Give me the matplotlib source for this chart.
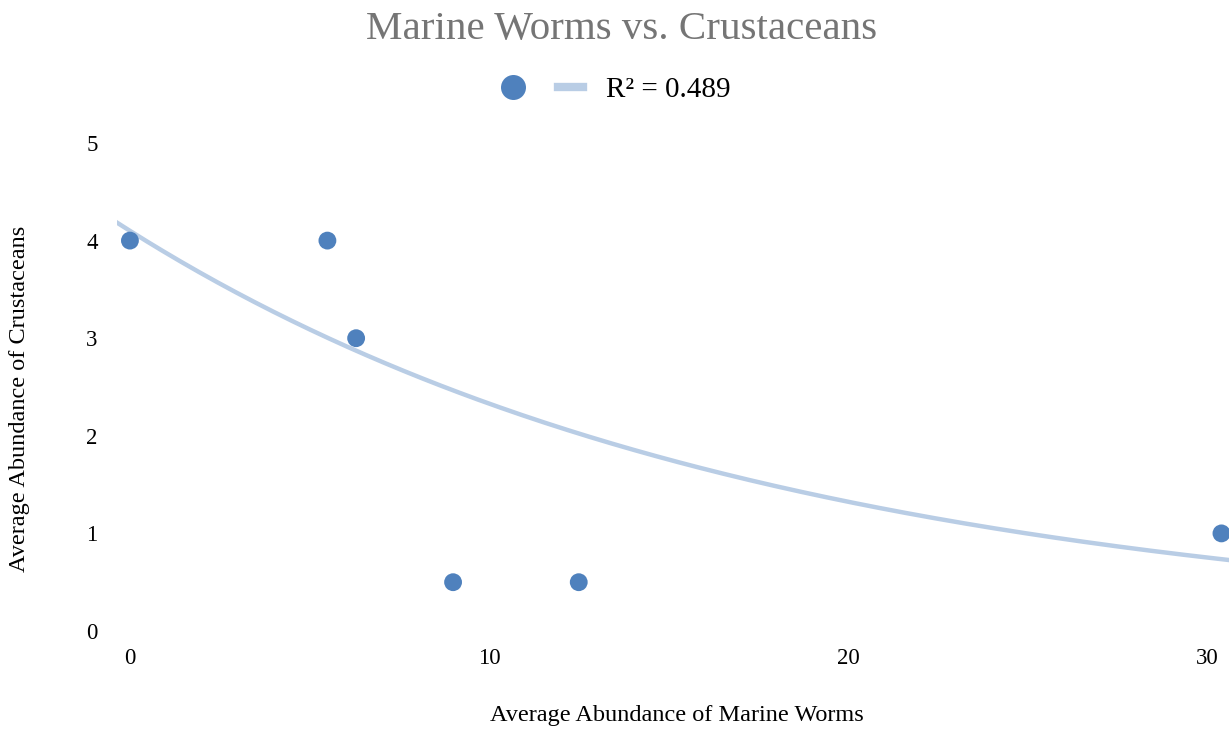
import numpy as np
import matplotlib.pyplot as plt
from matplotlib.lines import Line2D

# data
worms = [0.0, 5.5, 6.3, 9.0, 12.5, 30.4]
crustaceans = [4.0, 4.0, 3.0, 0.5, 0.5, 1.0]
r2_label = 'R² = 0.489'
# exponential trendline y = a*exp(b*x), parameters
trend_a, trend_b = 4.1, -0.0565
xticks = [0, 10, 20, 30]
yticks = [0, 1, 2, 3, 4, 5]

point_colour = '#4f81bd'
trend_colour = '#b9cde5'

plt.rcParams['font.family'] = ['Liberation Serif', 'DejaVu Serif']

fig = plt.figure(figsize=(12.29, 7.30), dpi=100)
ax = fig.add_axes([117 / 1229, 99 / 730, 1112 / 1229, 488 / 730])

xmin, xmax = -0.36, 30.61
xs = np.linspace(xmin, xmax, 300)
ax.plot(xs, trend_a * np.exp(trend_b * xs), color=trend_colour, lw=3.2, zorder=2)
ax.scatter(worms, crustaceans, s=165, color=point_colour, edgecolors='none', zorder=3)

ax.set_xlim(xmin, xmax)
ax.set_ylim(0, 5)
ax.set_xticks(xticks)
ax.set_yticks(yticks)
for s in ax.spines.values():
    s.set_visible(False)
ax.tick_params(length=0, labelsize=16.5, colors='black')
ax.tick_params(axis='x', pad=12)
ax.tick_params(axis='y', pad=14)

fig.text(677 / 1229, 1 - 715 / 730, 'Average Abundance of Marine Worms',
         ha='center', va='center', fontsize=17.5)
fig.text(20 / 1229, 1 - 399 / 730, 'Average Abundance of Crustaceans',
         ha='center', va='center', rotation=90, fontsize=17.5)
fig.text(622 / 1229, 1 - 30 / 730, 'Marine Worms vs. Crustaceans',
         ha='center', va='center', fontsize=29.5, color='#757575')

handles = [Line2D([], [], ls='none', marker='o', ms=18, color=point_colour, mec='none'),
           Line2D([], [], color=trend_colour, lw=6)]
fig.legend(handles, ['', r2_label], loc='center', bbox_to_anchor=(616 / 1229, 1 - 90 / 730),
           ncol=2, frameon=False, fontsize=21, handlelength=0.86, handletextpad=0.8,
           columnspacing=0.3)

fig.savefig('out.png', dpi=100)
